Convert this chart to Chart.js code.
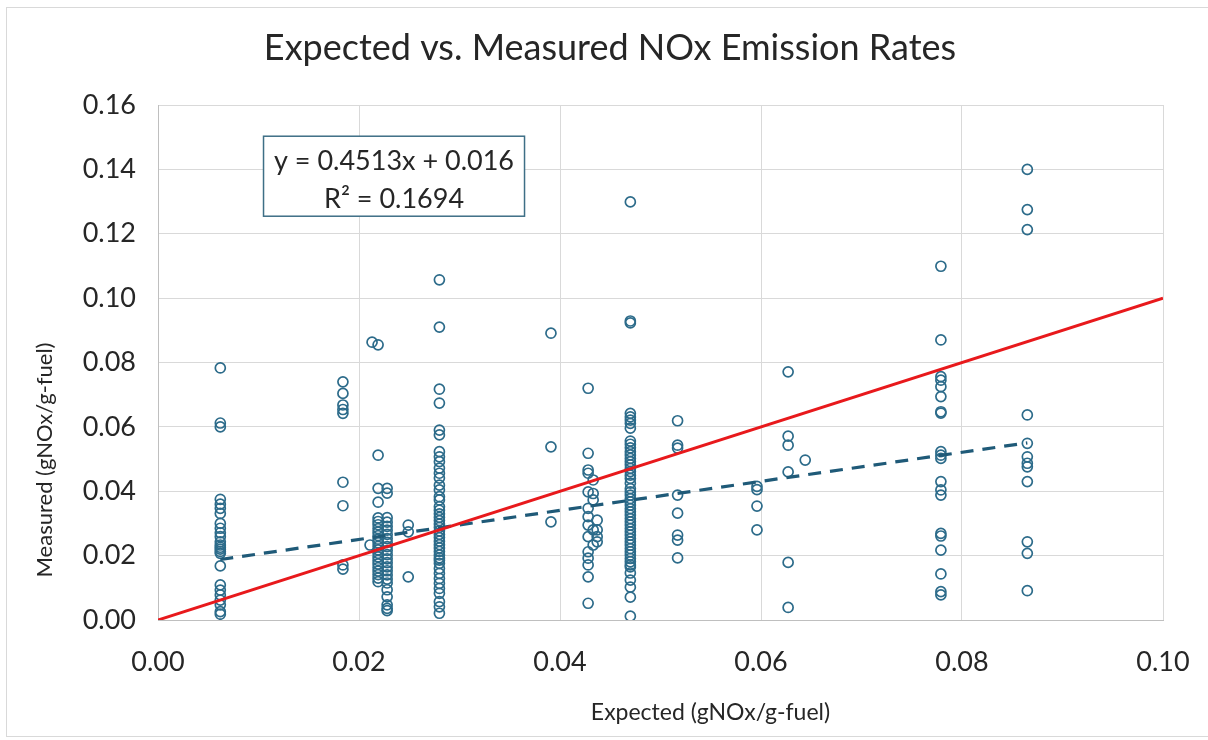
<!DOCTYPE html>
<html>
<head>
<meta charset="utf-8">
<script src="https://cdn.jsdelivr.net/npm/chart.js@4"></script>
<style>
    html, body { margin: 0; padding: 0; background: #fff; }
    #wrap { width: 1208px; height: 740px; position: relative; }
</style>
</head>
<body>
<div id="wrap"><canvas id="noxChart" width="1208" height="740"></canvas></div>
<script>
// expected values (x) of each column of points, and the measured values in it
const columnX = [0.0062, 0.0184, 0.0211, 0.0213, 0.0219, 0.0228, 0.0249, 0.0280,
    0.0391, 0.0428, 0.0433, 0.0437, 0.0470, 0.0517, 0.0596, 0.0627, 0.0644, 0.0779, 0.0865];
const columnY = [
    [0.0783, 0.0612, 0.0600, 0.0375, 0.0360, 0.0347, 0.0331, 0.0300, 0.0285, 0.0271, 0.0259, 0.0243,
     0.0233, 0.0226, 0.0220, 0.0213, 0.0207, 0.0168, 0.0109, 0.0093, 0.0078, 0.0062, 0.0047, 0.0026, 0.0018],
    [0.0740, 0.0704, 0.0668, 0.0654, 0.0642, 0.0428, 0.0355, 0.0171, 0.0158],
    [0.0233],
    [0.0863],
    [0.0855, 0.0512, 0.0409, 0.0366, 0.0317, 0.0306, 0.0296, 0.0284, 0.0273, 0.0262, 0.0251, 0.0240,
     0.0229, 0.0218, 0.0207, 0.0196, 0.0185, 0.0174, 0.0163, 0.0152, 0.0141, 0.0130, 0.0119],
    [0.0409, 0.0394, 0.0318, 0.0304, 0.0291, 0.0279, 0.0266, 0.0253, 0.0241, 0.0228, 0.0216, 0.0203,
     0.0190, 0.0178, 0.0165, 0.0153, 0.0140, 0.0127, 0.0115, 0.0094, 0.0072, 0.0047, 0.0036, 0.0029],
    [0.0295, 0.0274, 0.0134],
    [0.1057, 0.0910, 0.0717, 0.0674, 0.0590, 0.0575, 0.0523, 0.0507, 0.0492, 0.0472, 0.0456, 0.0441,
     0.0419, 0.0404, 0.0383, 0.0373, 0.0352, 0.0341, 0.0330, 0.0319, 0.0309, 0.0298, 0.0288, 0.0277,
     0.0266, 0.0256, 0.0245, 0.0234, 0.0224, 0.0213, 0.0202, 0.0193, 0.0186, 0.0176, 0.0160, 0.0145,
     0.0129, 0.0114, 0.0098, 0.0083, 0.0057, 0.0041, 0.0021],
    [0.0891, 0.0538, 0.0305],
    [0.0720, 0.0518, 0.0466, 0.0456, 0.0398, 0.0347, 0.0321, 0.0295, 0.0259, 0.0212, 0.0192, 0.0171, 0.0134, 0.0052],
    [0.0435, 0.0393, 0.0373, 0.0280, 0.0233],
    [0.0310, 0.0280, 0.0259, 0.0243],
    [0.1299, 0.0929, 0.0923, 0.0642, 0.0631, 0.0621, 0.0611, 0.0596, 0.0556, 0.0546, 0.0535, 0.0523,
     0.0513, 0.0502, 0.0492, 0.0482, 0.0471, 0.0461, 0.0450, 0.0440, 0.0425, 0.0408, 0.0398, 0.0388,
     0.0377, 0.0367, 0.0357, 0.0346, 0.0336, 0.0326, 0.0315, 0.0305, 0.0295, 0.0284, 0.0274, 0.0264,
     0.0253, 0.0243, 0.0233, 0.0222, 0.0212, 0.0202, 0.0191, 0.0181, 0.0171, 0.0165, 0.0146, 0.0124,
     0.0102, 0.0071, 0.0012],
    [0.0619, 0.0543, 0.0534, 0.0388, 0.0332, 0.0264, 0.0248, 0.0193],
    [0.0415, 0.0405, 0.0354, 0.0280],
    [0.0771, 0.0571, 0.0543, 0.0460, 0.0179, 0.0039],
    [0.0497],
    [0.1099, 0.0870, 0.0756, 0.0745, 0.0725, 0.0694, 0.0647, 0.0643, 0.0523, 0.0512, 0.0502, 0.0430,
     0.0404, 0.0388, 0.0269, 0.0261, 0.0217, 0.0143, 0.0088, 0.0078],
    [0.1400, 0.1275, 0.1213, 0.0637, 0.0549, 0.0507, 0.0487, 0.0476, 0.0430, 0.0243, 0.0207, 0.0091]
];

// linear fit from the spreadsheet and the 1:1 reference line
const fitSlope = 0.4513;
const fitIntercept = 0.016;
const fitRange = [0.0062, 0.0865];
const oneToOne = [0, 0.1];

const xTicks = { min: 0, max: 0.1, step: 0.02 };
const yTicks = { min: 0, max: 0.16, step: 0.02 };
const eqLines = ["y = 0.4513x + 0.016", "R\u00b2 = 0.1694"];

const points = [];
columnX.forEach((x, i) => {
    columnY[i].forEach(y => points.push({ x: x, y: y }));
});

const fitLine = fitRange.map(x => ({ x: x, y: fitSlope * x + fitIntercept }));
const refLine = oneToOne.map(v => ({ x: v, y: v }));

const textColor = "#262626";
const dotColor = "#2c6b8a";

const decorPlugin = {
    id: "decor",
    beforeDraw(chart) {
        const c = chart.ctx;
        c.save();
        c.fillStyle = "#fff";
        c.fillRect(0, 0, chart.width, chart.height);
        c.strokeStyle = "#d9d9d9";
        c.lineWidth = 1;
        c.strokeRect(6.5, 7.5, 1220, 729);
        c.restore();
    },
    afterDraw(chart) {
        const c = chart.ctx;
        const area = chart.chartArea;
        const xs = chart.scales.x, ys = chart.scales.y;
        c.save();
        c.fillStyle = textColor;
        c.textAlign = "center";
        c.textBaseline = "middle";
        c.font = "36px Lato";
        c.fillText("Expected vs. Measured NOx Emission Rates", 610, 48);

        c.font = "23px Lato";
        c.fillText("Expected (gNOx/g-fuel)", (area.left + area.right) / 2 + 50, 713);
        c.font = "22px Lato";
        c.translate(45, 460);
        c.rotate(-Math.PI / 2);
        c.fillText("Measured (gNOx/g-fuel)", 0, 0);
        c.restore();

        // equation box
        c.save();
        const bx = xs.getPixelForValue(0.0105), by = ys.getPixelForValue(0.1503);
        const bw = 261, bh = 80;
        c.fillStyle = "#fff";
        c.fillRect(bx, by, bw, bh);
        c.strokeStyle = "#3e6f86";
        c.lineWidth = 1.5;
        c.strokeRect(bx, by, bw, bh);
        c.fillStyle = textColor;
        c.font = "27px Lato";
        c.textAlign = "center";
        c.textBaseline = "middle";
        c.fillText(eqLines[0], bx + bw / 2, by + 25);
        c.fillText(eqLines[1], bx + bw / 2, by + 63);
        c.restore();
    }
};

const ctx = document.getElementById("noxChart").getContext("2d");

new Chart(ctx, {
    type: "scatter",
    data: {
        datasets: [{
            label: "Measured",
            data: points,
            pointStyle: "circle",
            pointRadius: 5,
            pointBorderWidth: 1.7,
            borderColor: dotColor,
            backgroundColor: "rgba(0,0,0,0)",
            order: 3
        }, {
            label: "Linear fit",
            data: fitLine,
            showLine: true,
            borderColor: "#1f5a78",
            borderWidth: 3.2,
            borderDash: [13, 9],
            pointRadius: 0,
            order: 2
        }, {
            label: "1:1",
            data: refLine,
            showLine: true,
            borderColor: "#e8191c",
            borderWidth: 3,
            pointRadius: 0,
            order: 1
        }]
    },
    options: {
        responsive: false,
        animation: false,
        devicePixelRatio: 1,
        layout: { padding: { top: 105, right: 45, left: 0, bottom: 0 } },
        plugins: {
            legend: { display: false },
            tooltip: { enabled: false },
            title: { display: false }
        },
        scales: {
            x: {
                type: "linear",
                min: xTicks.min,
                max: xTicks.max,
                afterFit(scale) {
                    scale.height = 120;
                    scale.paddingLeft = 0;
                    scale.paddingRight = 0;
                },
                afterBuildTicks(scale) {
                    const t = [];
                    for (let v = xTicks.min; v <= xTicks.max + 1e-9; v += xTicks.step) t.push({ value: +v.toFixed(2) });
                    scale.ticks = t;
                },
                grid: { color: "#d9d9d9", drawTicks: false },
                border: { color: "#bfbfbf" },
                ticks: {
                    padding: 26,
                    color: textColor,
                    font: { family: "Lato", size: 27 },
                    callback: v => v.toFixed(2)
                }
            },
            y: {
                type: "linear",
                min: yTicks.min,
                max: yTicks.max,
                afterFit(scale) { scale.width = 158; },
                afterBuildTicks(scale) {
                    const t = [];
                    for (let v = yTicks.min; v <= yTicks.max + 1e-9; v += yTicks.step) t.push({ value: +v.toFixed(2) });
                    scale.ticks = t;
                },
                grid: { color: "#d9d9d9", drawTicks: false },
                border: { color: "#bfbfbf" },
                ticks: {
                    padding: 22,
                    color: textColor,
                    font: { family: "Lato", size: 27 },
                    callback: v => v.toFixed(2)
                }
            }
        }
    },
    plugins: [decorPlugin]
});
</script>
</body>
</html>
